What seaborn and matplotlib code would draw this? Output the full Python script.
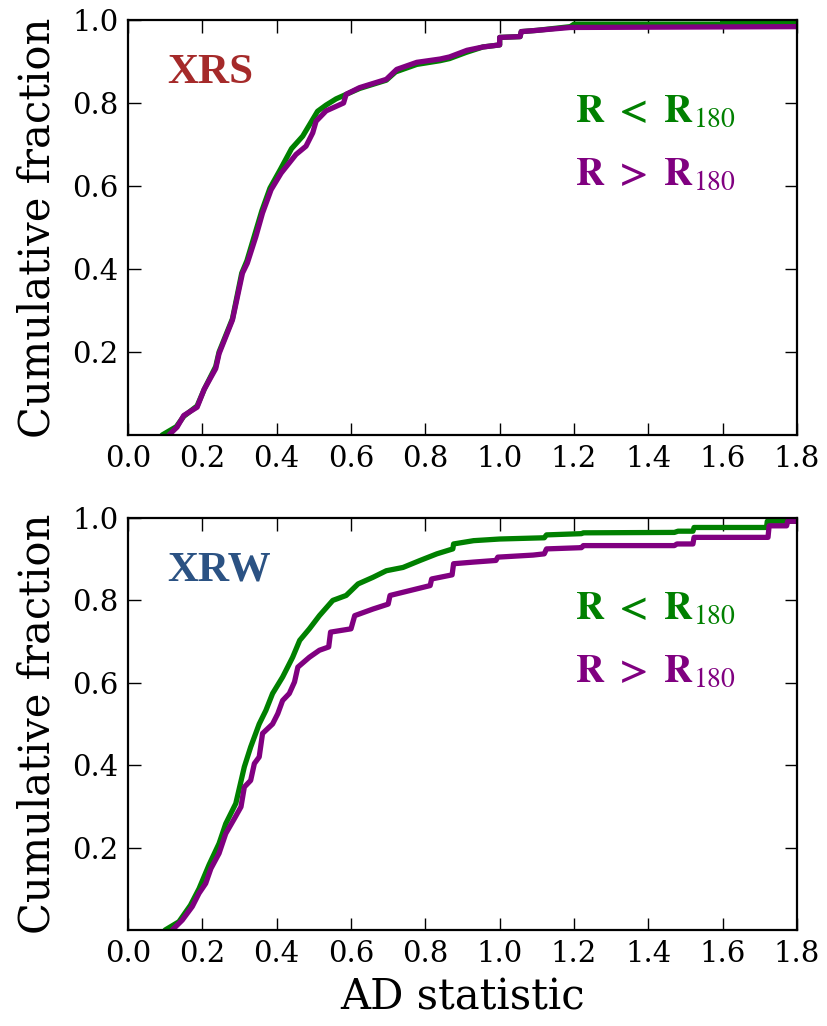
import matplotlib
matplotlib.use("Agg")
import matplotlib.pyplot as plt
import seaborn as sns
import pandas as pd

# ---- data (AD statistic, cumulative fraction) ----
xrs_in_x = [0.092, 0.13, 0.15, 0.186, 0.205, 0.236, 0.245, 0.281, 0.306, 0.32, 0.34, 0.36, 0.382, 0.41,
            0.44, 0.47, 0.49, 0.51, 0.533, 0.56, 0.585, 0.623, 0.695, 0.72, 0.777, 0.84, 0.865, 0.91,
            0.955, 1.0, 1.0, 1.055, 1.058, 1.1, 1.19, 1.2, 1.6, 1.6, 1.8]
xrs_in_y = [0.0, 0.02, 0.045, 0.07, 0.11, 0.165, 0.2, 0.28, 0.39, 0.42, 0.48, 0.54, 0.595, 0.64,
            0.69, 0.72, 0.75, 0.78, 0.795, 0.81, 0.82, 0.835, 0.855, 0.875, 0.893, 0.902, 0.907, 0.922,
            0.935, 0.94, 0.958, 0.96, 0.972, 0.975, 0.984, 0.99, 0.99, 0.994, 0.994]

xrs_out_x = [0.11, 0.132, 0.15, 0.186, 0.205, 0.236, 0.245, 0.281, 0.308, 0.321, 0.344, 0.362, 0.385,
             0.412, 0.452, 0.479, 0.497, 0.506, 0.533, 0.58, 0.587, 0.623, 0.695, 0.723, 0.777, 0.84,
             0.865, 0.912, 0.955, 1.0, 1.0, 1.055, 1.058, 1.1, 1.19, 1.8]
xrs_out_y = [0.0, 0.019, 0.047, 0.067, 0.11, 0.16, 0.196, 0.277, 0.39, 0.414, 0.478, 0.535, 0.591,
             0.631, 0.676, 0.696, 0.728, 0.756, 0.781, 0.80, 0.821, 0.837, 0.857, 0.881, 0.898, 0.906,
             0.911, 0.927, 0.935, 0.94, 0.958, 0.96, 0.972, 0.975, 0.982, 0.984]

xrw_in_x = [0.10, 0.137, 0.168, 0.191, 0.218, 0.245, 0.263, 0.29, 0.313, 0.33, 0.353, 0.371, 0.389,
            0.416, 0.443, 0.462, 0.488, 0.515, 0.551, 0.587, 0.619, 0.659, 0.695, 0.74, 0.786, 0.831,
            0.874, 0.876, 0.93, 1.0, 1.12, 1.126, 1.22, 1.225, 1.47, 1.48, 1.52, 1.523, 1.718, 1.72, 1.8]
xrw_in_y = [0.0, 0.02, 0.06, 0.10, 0.158, 0.21, 0.258, 0.307, 0.396, 0.444, 0.50, 0.533, 0.574,
            0.614, 0.662, 0.703, 0.731, 0.763, 0.80, 0.812, 0.84, 0.856, 0.872, 0.88, 0.897, 0.913,
            0.925, 0.937, 0.945, 0.949, 0.952, 0.959, 0.962, 0.964, 0.965, 0.968, 0.968, 0.977, 0.977,
            0.992, 0.992]

xrw_out_x = [0.119, 0.146, 0.173, 0.191, 0.209, 0.223, 0.245, 0.263, 0.286, 0.304, 0.313, 0.33, 0.34,
             0.353, 0.362, 0.389, 0.403, 0.416, 0.434, 0.448, 0.457, 0.488, 0.515, 0.54, 0.545, 0.6,
             0.61, 0.659, 0.70, 0.705, 0.759, 0.813, 0.817, 0.872, 0.876, 0.93, 0.99, 0.995, 1.09,
             1.12, 1.126, 1.22, 1.225, 1.47, 1.477, 1.52, 1.523, 1.722, 1.725, 1.772, 1.775, 1.8]
xrw_out_y = [0.0, 0.024, 0.057, 0.089, 0.113, 0.149, 0.186, 0.234, 0.27, 0.299, 0.347, 0.363, 0.404,
             0.42, 0.477, 0.50, 0.525, 0.557, 0.574, 0.602, 0.638, 0.662, 0.679, 0.687, 0.723, 0.731,
             0.763, 0.779, 0.791, 0.812, 0.824, 0.836, 0.852, 0.862, 0.889, 0.893, 0.897, 0.905, 0.91,
             0.913, 0.925, 0.928, 0.933, 0.933, 0.937, 0.937, 0.953, 0.953, 0.981, 0.981, 0.992, 0.992]

x_ticks = [0.0, 0.2, 0.4, 0.6, 0.8, 1.0, 1.2, 1.4, 1.6, 1.8]
y_ticks = [0.2, 0.4, 0.6, 0.8, 1.0]
panel_names = ["XRS", "XRW"]
panel_colors = ["#a52a2a", "#2b5283"]
series_colors = ["green", "purple"]

sns.set_style("ticks")
plt.rcParams["font.family"] = ["DejaVu Serif"]
plt.rcParams["mathtext.fontset"] = "stix"
plt.rcParams["text.color"] = "black"
plt.rcParams["axes.labelcolor"] = "black"

fig = plt.figure(figsize=(8.27, 10.26), dpi=100)
ax_top = fig.add_axes([128 / 827, 1 - 435 / 1026, 669 / 827, 415 / 1026])
ax_bot = fig.add_axes([128 / 827, 1 - 930 / 1026, 669 / 827, 412 / 1026])

panels = [
    (ax_top, [(xrs_in_x, xrs_in_y), (xrs_out_x, xrs_out_y)]),
    (ax_bot, [(xrw_in_x, xrw_in_y), (xrw_out_x, xrw_out_y)]),
]

for i, (ax, curves) in enumerate(panels):
    for (xs, ys), col in zip(curves, series_colors):
        df = pd.DataFrame({"x": xs, "y": ys})
        sns.lineplot(data=df, x="x", y="y", ax=ax, color=col, lw=3.8,
                     estimator=None, sort=False)
    ax.set_xlim(0, 1.8)
    ax.set_ylim(0, 1.0)
    ax.set_xticks(x_ticks)
    ax.set_xticklabels([f"{t:.1f}" for t in x_ticks])
    ax.set_yticks(y_ticks)
    ax.set_yticklabels([f"{t:.1f}" for t in y_ticks])
    ax.tick_params(direction="in", length=9, width=1, top=True, right=True,
                   labelsize=21, pad=7, colors="black")
    for s in ax.spines.values():
        s.set_linewidth(1.6)
        s.set_color("black")
    ax.set_ylabel("Cumulative fraction", fontsize=30, labelpad=10)
    ax.set_xlabel("")
    ax.text(0.058, 0.848, panel_names[i], transform=ax.transAxes, fontsize=31,
            fontweight="bold", family="Liberation Serif", color=panel_colors[i],
            ha="left", va="baseline")
    ax.text(0.668, 0.755, r"$\mathbf{R\ <\ R}_{180}$", transform=ax.transAxes, fontsize=28.5,
            color="green", ha="left", va="baseline")
    ax.text(0.668, 0.604, r"$\mathbf{R\ >\ R}_{180}$", transform=ax.transAxes, fontsize=28.5,
            color="purple", ha="left", va="baseline")

ax_bot.set_xlabel("AD statistic", fontsize=30, labelpad=6)

fig.savefig("out.png", dpi=100)
